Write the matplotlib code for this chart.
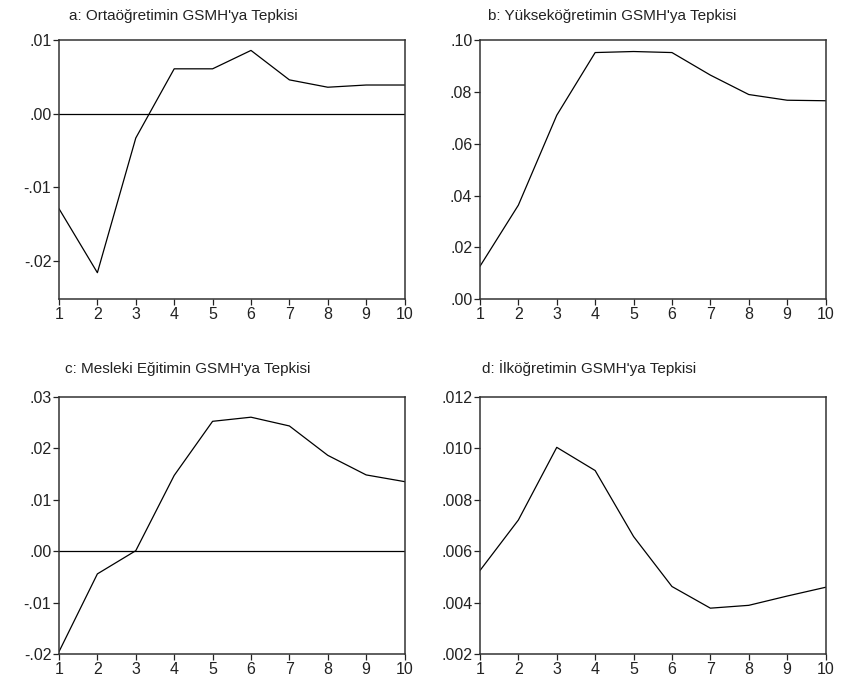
import matplotlib
matplotlib.use("Agg")
import matplotlib.pyplot as plt
from matplotlib.ticker import FuncFormatter

plt.rcParams['font.family'] = ['Liberation Sans', 'DejaVu Sans']

periods = [1, 2, 3, 4, 5, 6, 7, 8, 9, 10]

orta = [-0.0129, -0.0216, -0.0033, 0.0061, 0.0061, 0.0086, 0.0046, 0.0036, 0.0039, 0.0039]
yuksek = [0.0127, 0.0363, 0.0710, 0.0952, 0.0956, 0.0952, 0.0865, 0.0790, 0.0768, 0.0766]
meslek = [-0.0195, -0.0044, 0.0001, 0.0147, 0.0252, 0.0260, 0.0243, 0.0186, 0.0148, 0.0135]
ilk = [0.00525, 0.00721, 0.01003, 0.00913, 0.00657, 0.00463, 0.00379, 0.00390, 0.00426, 0.00460]

titles = ["a: Ortaöğretimin GSMH'ya Tepkisi",
          "b: Yükseköğretimin GSMH'ya Tepkisi",
          "c: Mesleki Eğitimin GSMH'ya Tepkisi",
          "d: İlköğretimin GSMH'ya Tepkisi"]


def dot_fmt(dec):
    def f(v, pos):
        s = f"{v:.{dec}f}"
        if s.startswith("-0"):
            return "-" + s[2:]
        if s.startswith("0"):
            return s[1:]
        return s
    return FuncFormatter(f)


panels = [
    # series, ylim, yticks, decimals, zero line, axes rect, title x offset
    (orta, (-0.0252, 0.01), [-0.02, -0.01, 0.0, 0.01], 2, True,
     [0.0698, 0.560, 0.409, 0.381], 0.030),
    (yuksek, (0.0, 0.10), [0.0, 0.02, 0.04, 0.06, 0.08, 0.10], 2, False,
     [0.568, 0.560, 0.409, 0.381], 0.022),
    (meslek, (-0.02, 0.03), [-0.02, -0.01, 0.0, 0.01, 0.02, 0.03], 2, True,
     [0.0698, 0.0378, 0.409, 0.379], 0.017),
    (ilk, (0.002, 0.012), [0.002, 0.004, 0.006, 0.008, 0.010, 0.012], 3, False,
     [0.568, 0.0378, 0.409, 0.379], 0.006),
]

fig = plt.figure(figsize=(8.45, 6.8), dpi=100)

for (vals, ylim, yt, dec, zero, rect, tx), title in zip(panels, titles):
    ax = fig.add_axes(rect)
    ax.plot(periods, vals, color='black', lw=0.9)
    if zero:
        ax.axhline(0, color='black', lw=0.9)
    ax.set_xlim(1, 10)
    ax.set_ylim(*ylim)
    ax.set_xticks(periods)
    ax.set_yticks(yt)
    ax.yaxis.set_major_formatter(dot_fmt(dec))
    ax.tick_params(direction='out', length=4, width=0.9, labelsize=11.5,
                   colors='#222222', pad=1.5)
    for sp in ax.spines.values():
        sp.set_color('#333333')
        sp.set_linewidth(1.1)
    ax.text(tx, 1.065 if rect[1] > 0.5 else 1.08, title, transform=ax.transAxes,
            fontsize=11, color='#222222', va='bottom', ha='left')

fig.savefig('out.png', dpi=100)
